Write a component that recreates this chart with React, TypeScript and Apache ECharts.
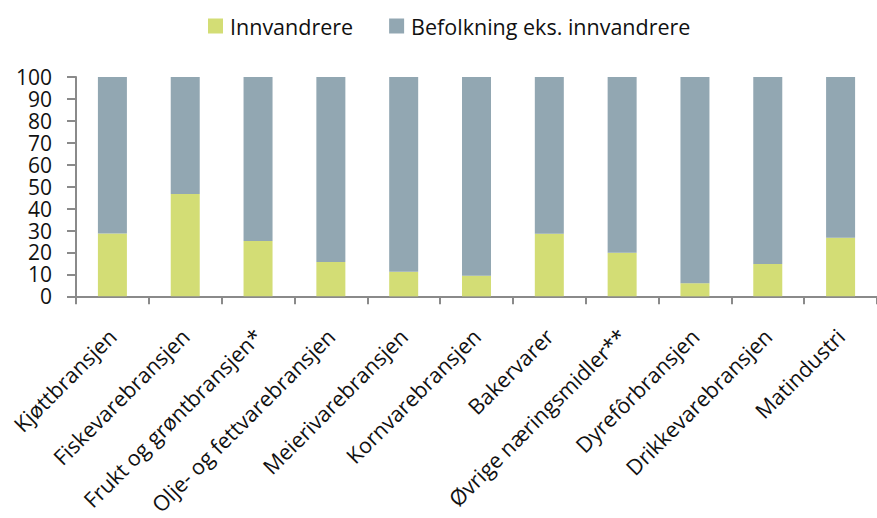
import React, { useEffect, useRef } from "react";
import * as echarts from "echarts";

const categories = [
  "Kjøttbransjen",
  "Fiskevarebransjen",
  "Frukt og grøntbransjen*",
  "Olje- og fettvarebransjen",
  "Meierivarebransjen",
  "Kornvarebransjen",
  "Bakervarer",
  "Øvrige næringsmidler**",
  "Dyrefôrbransjen",
  "Drikkevarebransjen",
  "Matindustri",
];

const innvandrere = [28.7, 46.7, 25.2, 15.7, 11.2, 9.4, 28.5, 19.9, 6.0, 14.8, 26.7];
const befolkning = [71.3, 53.3, 74.8, 84.3, 88.8, 90.6, 71.5, 80.1, 94.0, 85.2, 73.3];

const seriesNames = ["Innvandrere", "Befolkning eks. innvandrere"];
const yTicks = { min: 0, max: 100, interval: 10 };

const FONT = "'Open Sans', Lato, sans-serif";

export default function App() {
  const ref = useRef<HTMLDivElement>(null);
  useEffect(() => {
    if (!ref.current) return;
    const chart = echarts.init(ref.current, undefined, { renderer: "svg" });
    chart.setOption({
      animation: false,
      backgroundColor: "#ffffff",
      textStyle: { fontFamily: FONT },
      legend: {
        top: 10,
        left: 203,
        itemWidth: 15,
        itemHeight: 15,
        itemGap: 36,
        icon: "rect",
        textStyle: { fontSize: 21.5, color: "#111", fontFamily: FONT, padding: [0, 0, 0, 2] },
        data: seriesNames,
      },
      grid: { left: 76, top: 77, width: 806, height: 223, containLabel: false },
      xAxis: {
        type: "category",
        data: categories,
        boundaryGap: true,
        axisLine: { show: true, lineStyle: { color: "#8a8a8a", width: 2 } },
        axisTick: { show: true, length: 8, lineStyle: { color: "#8a8a8a", width: 2 } },
        axisLabel: {
          interval: 0,
          rotate: 45,
          margin: 36,
          fontSize: 21.5,
          color: "#111",
          fontFamily: FONT,
        },
      },
      yAxis: {
        type: "value",
        min: yTicks.min,
        max: yTicks.max,
        interval: yTicks.interval,
        splitLine: { show: false },
        axisLine: { show: true, lineStyle: { color: "#8a8a8a", width: 2 } },
        axisTick: { show: true, length: 9, lineStyle: { color: "#8a8a8a", width: 2 } },
        axisLabel: { fontSize: 21, lineHeight: 20, color: "#111", margin: 24, fontFamily: FONT },
      },
      series: [
        {
          name: seriesNames[0],
          type: "bar",
          stack: "total",
          barWidth: 29,
          data: innvandrere,
          itemStyle: { color: "#D3DD75" },
        },
        {
          name: seriesNames[1],
          type: "bar",
          stack: "total",
          barWidth: 29,
          data: befolkning,
          itemStyle: { color: "#92A7B2" },
        },
      ],
    });
    return () => chart.dispose();
  }, []);
  return (
    <div
      ref={ref}
      style={{ position: "fixed", left: 0, top: 0, width: 877, height: 518, overflow: "hidden" }}
    />
  );
}
